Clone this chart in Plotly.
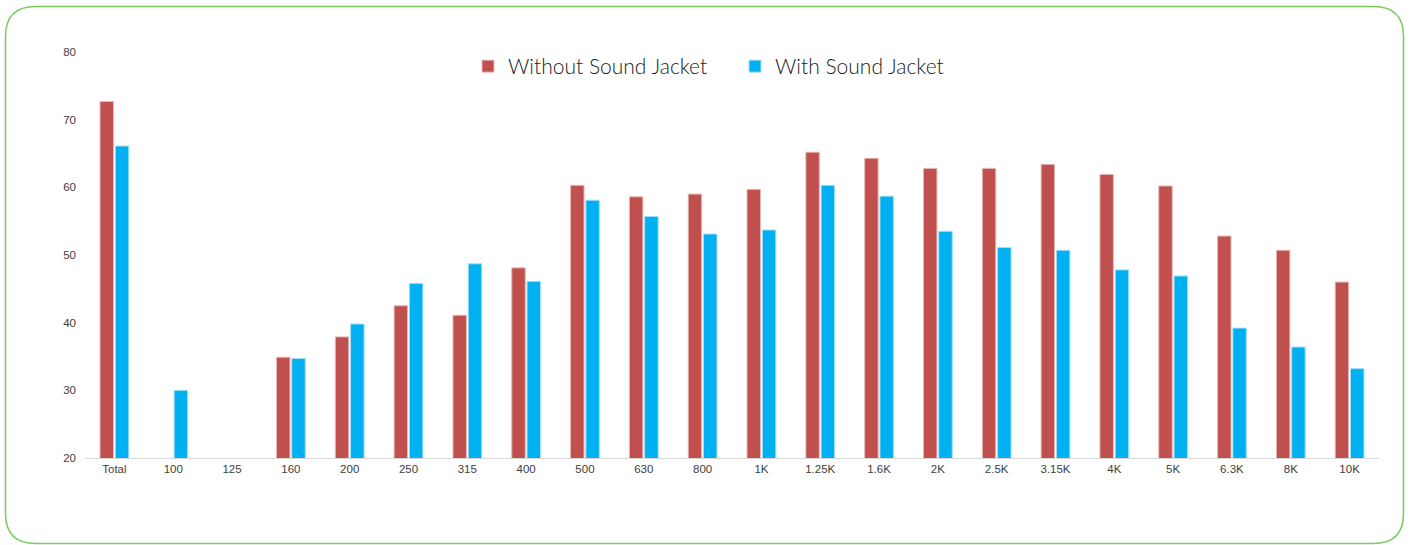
import plotly.graph_objects as go

categories = ["Total", "100", "125", "160", "200", "250", "315", "400", "500", "630", "800",
              "1K", "1.25K", "1.6K", "2K", "2.5K", "3.15K", "4K", "5K", "6.3K", "8K", "10K"]
without_jacket = [72.7, None, None, 34.9, 37.9, 42.5, 41.1, 48.1, 60.3, 58.6, 59.0,
                  59.7, 65.2, 64.3, 62.8, 62.8, 63.4, 61.9, 60.2, 52.8, 50.7, 46.0]
with_jacket = [66.1, 30.0, None, 34.7, 39.8, 45.8, 48.7, 46.1, 58.1, 55.7, 53.1,
               53.7, 60.3, 58.7, 53.5, 51.1, 50.7, 47.8, 46.9, 39.2, 36.4, 33.2]
y_ticks = [20, 30, 40, 50, 60, 70, 80]

W, H = 1410, 545
ML, MR, MT, MB = 85, 31, 52, 87
PW, PH = W - ML - MR, H - MT - MB


def px_x(p):
    return (p - ML) / PW


def px_y(p):
    return (H - MB - p) / PH


fig = go.Figure()
fig.add_trace(go.Bar(x=categories, y=without_jacket, name="Without Sound Jacket",
                     marker=dict(color="#C0504D", line=dict(color="#E8B8B6", width=1))))
fig.add_trace(go.Bar(x=categories, y=with_jacket, name="With Sound Jacket",
                     marker=dict(color="#00B0F0", line=dict(color="#9FE0F8", width=1))))

# rounded border frame
x0, x1, y0, y1, r = 5.5, 1403.5, 6.5, 543.5, 30
path = (f"M {px_x(x0 + r)},{px_y(y0)} L {px_x(x1 - r)},{px_y(y0)} "
        f"Q {px_x(x1)},{px_y(y0)} {px_x(x1)},{px_y(y0 + r)} "
        f"L {px_x(x1)},{px_y(y1 - r)} Q {px_x(x1)},{px_y(y1)} {px_x(x1 - r)},{px_y(y1)} "
        f"L {px_x(x0 + r)},{px_y(y1)} Q {px_x(x0)},{px_y(y1)} {px_x(x0)},{px_y(y1 - r)} "
        f"L {px_x(x0)},{px_y(y0 + r)} Q {px_x(x0)},{px_y(y0)} {px_x(x0 + r)},{px_y(y0)} Z")

fig.update_layout(
    width=W, height=H,
    margin=dict(l=ML, r=MR, t=MT, b=MB),
    paper_bgcolor="white", plot_bgcolor="white",
    barmode="group", bargap=0.48, bargroupgap=0.12,
    font=dict(family="Liberation Sans, Arial, sans-serif", color="#404040", size=11),
    showlegend=True,
    legend=dict(orientation="h", x=px_x(468), y=px_y(46), xanchor="left", yanchor="top",
                font=dict(family="Lato, sans-serif", size=21, color="#222222", weight=300),
                entrywidth=222, entrywidthmode="pixels", bgcolor="rgba(0,0,0,0)"),
    xaxis=dict(type="category", showgrid=False, showline=True, linecolor="#D9D9D9",
               linewidth=1, ticks="", tickfont=dict(size=11.5, color="#404040")),
    yaxis=dict(range=[20, 80], tickvals=y_ticks, showgrid=False, showline=False,
               zeroline=False, ticks="", ticklabelstandoff=8,
               tickfont=dict(size=11.5, color="#404040")),
    shapes=[dict(type="path", xref="paper", yref="paper", path=path,
                 line=dict(color="#78CC5E", width=1.5), fillcolor="rgba(0,0,0,0)", layer="below")],
)

fig.write_html("out.html", config={"displayModeBar": False},
               post_script="document.body.style.margin='0px';document.body.style.padding='0px';")
